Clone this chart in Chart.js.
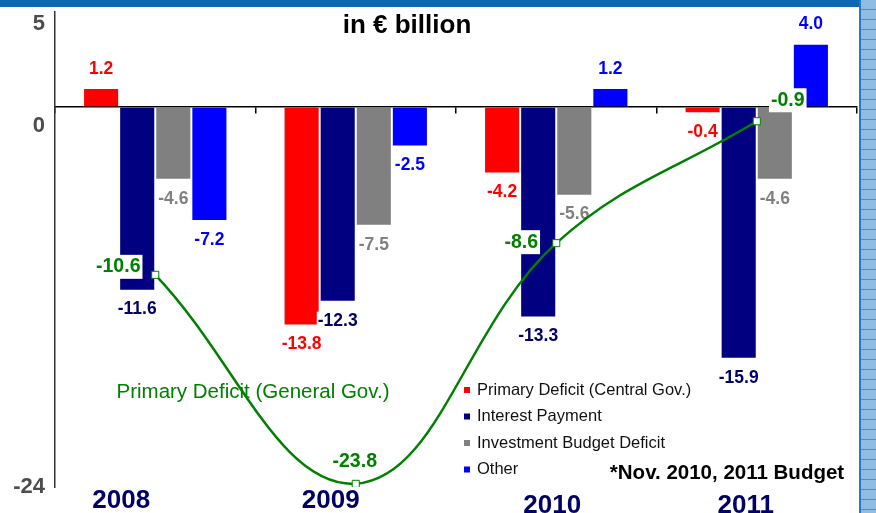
<!DOCTYPE html>
<html>
<head>
<meta charset="utf-8">
<script src="https://cdn.jsdelivr.net/npm/chart.js@4.4.0/dist/chart.umd.min.js"></script>
<style>
  html, body { margin: 0; padding: 0; background: #fff; }
  #wrap { position: relative; width: 876px; height: 513px; overflow: hidden; }
  #wrap canvas { position: absolute; left: 0; top: 0; }
  #topband { position: absolute; left: 0; top: 0; width: 876px; height: 7px; background: #0b68b5; }
  #sideband {
    position: absolute; left: 859px; top: 0; width: 17px; height: 513px;
    border-left: 2px solid #2a78c0; box-sizing: border-box;
    background-color: #8fbde3;
    background-image: repeating-linear-gradient(to bottom, transparent 0 9px, #4a8fcb 9px 10px);
  }
</style>
</head>
<body>
<div id="wrap">
  <canvas id="deficitChart" width="876" height="513"></canvas>
  <div id="topband"></div>
  <div id="sideband"></div>
</div>
<script>
const years = ['2008', '2009', '2010', '2011'];
const primaryCentral = [1.2, -13.8, -4.2, -0.4];
const interestPayment = [-11.6, -12.3, -13.3, -15.9];
const investmentDeficit = [-4.6, -7.5, -5.6, -4.6];
const otherItems = [-7.2, -2.5, 1.2, 4.0];
const primaryGeneral = [-10.6, -23.8, -8.6, -0.9];
const yTickValues = [5, 0, -24];

const FONT = '"Liberation Sans", Arial, sans-serif';

// where the hand-placed texts sit (pixels)
const yTickShift = [-4, 19, 0];
const yearShift = [[-34, 0], [-25, 0], [-4, 5], [-11, 5]];
const greenLabelShift = [[-37, -8], [-1, -22], [-35, -1], [31, -21]];

// y tick labels, year labels, title and notes
const textPlugin = {
    id: 'texts',
    afterDraw(chart) {
        const ctx = chart.ctx;
        const y = chart.scales.y;
        const x = chart.scales.x;
        ctx.save();
        ctx.textBaseline = 'middle';

        ctx.font = 'bold 22px ' + FONT;
        ctx.fillStyle = '#4d4d4d';
        ctx.textAlign = 'right';
        yTickValues.forEach((v, i) => {
            ctx.fillText(String(v), 45, y.getPixelForValue(v) + yTickShift[i]);
        });

        ctx.font = 'bold 26px ' + FONT;
        ctx.fillStyle = '#000066';
        ctx.textAlign = 'center';
        years.forEach((yr, i) => {
            ctx.fillText(yr, x.getPixelForValue(i) + yearShift[i][0], 501 + yearShift[i][1]);
        });

        ctx.fillStyle = '#000';
        ctx.font = 'bold 26px ' + FONT;
        ctx.fillText('in € billion', 407, 26);
        ctx.font = 'bold 20.5px ' + FONT;
        ctx.fillText('*Nov. 2010, 2011 Budget', 727, 473);

        // legend for the bar series only
        ctx.font = '16.5px ' + FONT;
        ctx.textAlign = 'left';
        const bars = chart.data.datasets.filter(ds => ds.type !== 'line');
        bars.forEach((ds, i) => {
            const ly = 390 + i * 26.5;
            ctx.fillStyle = ds.backgroundColor;
            ctx.fillRect(464, ly - 3, 6, 6);
            ctx.fillStyle = '#111';
            ctx.fillText(ds.label, 477, ly);
        });
        ctx.restore();
    }
};

// bar value labels go under the line, line labels go on top of it
const valuePlugin = {
    id: 'values',
    beforeDatasetDraw(chart, args) {
        if (args.meta.type !== 'line') return;
        const ctx = chart.ctx;
        ctx.save();
        ctx.textAlign = 'center';
        ctx.textBaseline = 'middle';

        const line = chart.data.datasets[args.index];
        ctx.font = '20.5px ' + FONT;
        ctx.fillStyle = line.borderColor;
        ctx.fillText(line.label, 253, 392);

        ctx.font = 'bold 17.5px ' + FONT;
        chart.data.datasets.forEach((ds, i) => {
            if (ds.type === 'line') return;
            chart.getDatasetMeta(i).data.forEach((bar, j) => {
                const v = ds.data[j];
                const txt = v.toFixed(1);
                const ty = v >= 0 ? bar.y - 19 : bar.y + 19;
                const w = ctx.measureText(txt).width;
                ctx.fillStyle = '#fff';
                ctx.fillRect(bar.x - w / 2 - 1, ty - 9, w + 2, 18);
                ctx.fillStyle = ds.labelColor;
                ctx.fillText(txt, bar.x, ty);
            });
        });
        ctx.restore();
    },
    afterDatasetsDraw(chart) {
        const ctx = chart.ctx;
        ctx.save();
        ctx.textAlign = 'center';
        ctx.textBaseline = 'middle';
        ctx.font = 'bold 19.5px ' + FONT;
        chart.data.datasets.forEach((ds, i) => {
            if (ds.type !== 'line') return;
            chart.getDatasetMeta(i).data.forEach((pt, j) => {
                const txt = ds.data[j].toFixed(1);
                const tx = pt.x + greenLabelShift[j][0];
                const ty = pt.y + greenLabelShift[j][1];
                const w = ctx.measureText(txt).width;
                if (j !== 1) {
                    ctx.fillStyle = '#fff';
                    ctx.fillRect(tx - w / 2 - 2, ty - 12, w + 4, 24);
                }
                ctx.fillStyle = ds.borderColor;
                ctx.fillText(txt, tx, ty);
            });
        });
        ctx.restore();
    }
};

new Chart(document.getElementById('deficitChart'), {
    type: 'bar',
    data: {
        labels: years,
        datasets: [
            {
                type: 'line',
                label: 'Primary Deficit (General Gov.)',
                data: primaryGeneral,
                order: 0,
                borderColor: '#008000',
                borderWidth: 2.5,
                tension: 0.4,
                fill: false,
                pointStyle: 'rect',
                pointRadius: 5,
                pointBorderWidth: 1,
                pointBackgroundColor: '#fff',
                pointBorderColor: '#008000'
            },
            { label: 'Primary Deficit (Central Gov.)', data: primaryCentral, backgroundColor: '#ff0000', labelColor: '#ff0000', order: 1 },
            { label: 'Interest Payment', data: interestPayment, backgroundColor: '#000080', labelColor: '#000066', order: 1 },
            { label: 'Investment Budget Deficit', data: investmentDeficit, backgroundColor: '#808080', labelColor: '#808080', order: 1 },
            { label: 'Other', data: otherItems, backgroundColor: '#0000ff', labelColor: '#0000ff', order: 1 }
        ]
    },
    options: {
        responsive: false,
        animation: false,
        datasets: {
            bar: { categoryPercentage: 0.72, barPercentage: 1, borderWidth: 1, borderColor: '#fff' }
        },
        layout: { padding: { left: 55, top: 12, right: 19, bottom: 26 } },
        plugins: { legend: { display: false }, tooltip: { enabled: false } },
        scales: {
            x: {
                position: { y: 0 },
                grid: { drawOnChartArea: false, tickLength: 6, color: '#000', lineWidth: 1.5 },
                border: { color: '#000', width: 1.5 },
                ticks: { display: false }
            },
            y: {
                min: -24,
                max: 6,
                grid: { drawOnChartArea: false, drawTicks: false },
                border: { color: '#333', width: 1.5 },
                ticks: { display: false }
            }
        }
    },
    plugins: [textPlugin, valuePlugin]
});
</script>
</body>
</html>
